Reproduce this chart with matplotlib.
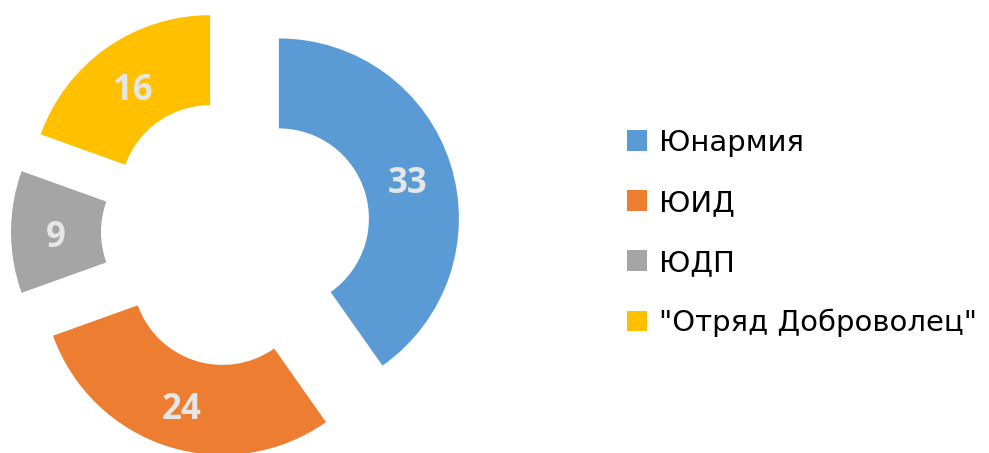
import matplotlib
matplotlib.use("Agg")
import matplotlib.pyplot as plt
from matplotlib.patches import Patch

labels = ['Юнармия', 'ЮИД', 'ЮДП', '"Отряд Доброволец"']
values = [33, 24, 9, 16]
colors = ['#5B9BD5', '#ED7D31', '#A5A5A5', '#FFC000']

plt.rcParams['font.family'] = ['Open Sans', 'DejaVu Sans']

W, H = 989, 453
fig = plt.figure(figsize=(W / 100, H / 100), dpi=100)
ax = fig.add_axes([0, 0, 1, 1])

total = sum(values)
wedges, texts, autotexts = ax.pie(
    values, colors=colors, startangle=90, counterclock=False,
    center=(236, H - 232), radius=180, explode=[45] * len(values),
    wedgeprops=dict(width=90, linewidth=0),
    autopct=lambda p: f'{p * total / 100:.0f}', pctdistance=0.75,
    textprops=dict(color='#E7E6E6', fontsize=25, fontweight='bold'))

# open sans sits a bit high, push numbers down
for t in autotexts:
    x, y = t.get_position()
    t.set_position((x, y - 6))

ax.set_xlim(0, W)
ax.set_ylim(0, H)
ax.set_aspect('equal')
ax.axis('off')

handles = [Patch(facecolor=c, edgecolor='none') for c in colors]
fig.legend(handles, labels, loc='center left', bbox_to_anchor=(612 / W, 1 - 233 / H),
           frameon=False, prop=dict(family='DejaVu Sans', size=21),
           handlelength=0.7, handleheight=0.7,
           handletextpad=0.42, labelspacing=1.1, borderpad=0)

fig.savefig('out.png', dpi=100)
